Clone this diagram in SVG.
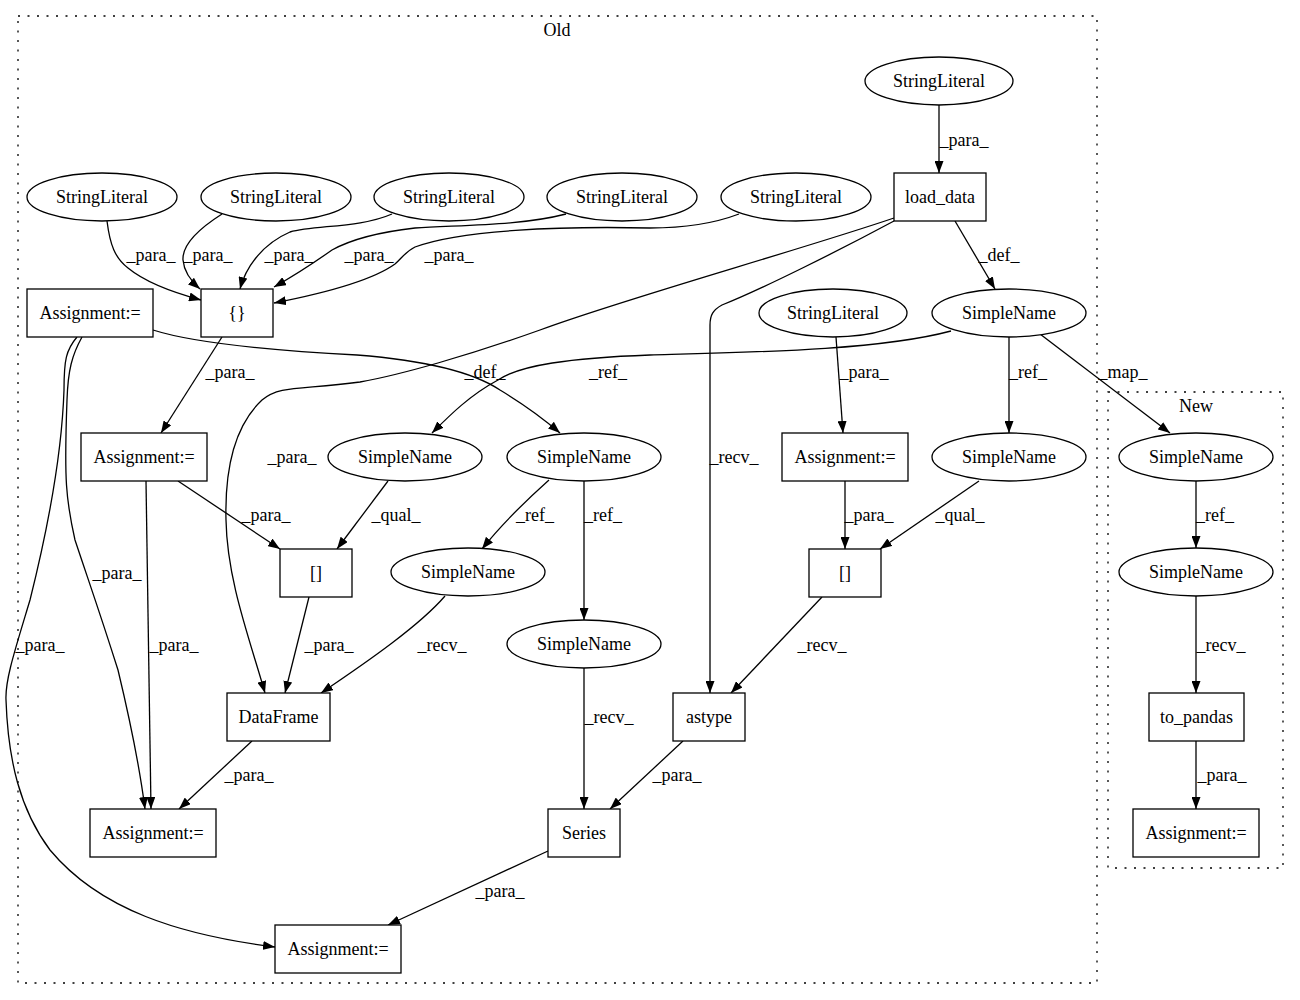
<svg xmlns="http://www.w3.org/2000/svg" width="1300" height="1000" viewBox="0 0 1300 1000">
<defs>
<marker id="ah" viewBox="0 0 12 9" refX="12" refY="4.5" markerWidth="12" markerHeight="9" markerUnits="userSpaceOnUse" orient="auto">
<path d="M0,0 L12,4.5 L0,9 z" fill="#000"/>
</marker>
</defs>
<style>
text{font-family:"Liberation Serif","Times New Roman",serif;font-size:18px;fill:#000;text-anchor:middle}
.n rect,.n ellipse{fill:#fff;stroke:#000;stroke-width:1.3}
.cl{fill:none;stroke:#000;stroke-width:1.3;stroke-dasharray:2,7.5}
#edges path{fill:none;stroke:#000;stroke-width:1.3;marker-end:url(#ah)}
</style>
<rect width="1300" height="1000" fill="#fff"/>
<g id="cluster_old">
<rect class="cl" x="18" y="16" width="1079" height="967"/>
<text x="557" y="36">Old</text>
</g>
<g id="cluster_new">
<rect class="cl" x="1108" y="392" width="175" height="476"/>
<text x="1196" y="412">New</text>
</g>
<g id="edges">
<path d="M939,105 L939,173"/>
<path d="M107,221 C110,245 115,258 128,268 C145,282 175,293 201,300"/>
<path d="M222,214 C200,228 182,245 183,260 C184,272 192,282 200,289"/>
<path d="M392,214 C360,228 315,225 290,232 C260,245 245,270 240,289"/>
<path d="M566,214 C520,226 460,225 415,228 C380,232 350,240 332,250 C315,262 290,278 274,287"/>
<path d="M739,214 C710,225 680,228 650,228 C560,226 460,230 415,247 C405,252 402,258 395,264 C370,282 310,296 274,303"/>
<path d="M894,218 C800,250 620,300 540,330 C470,355 400,375 360,382 C300,390 280,385 262,400 C230,430 225,480 226,520 C227,580 250,640 265,693"/>
<path d="M894,221 C840,250 760,290 722,305 C713,310 710,315 710,325 L710,693"/>
<path d="M955,221 L995,289"/>
<path d="M153,330 C200,345 300,352 357,355 C420,360 470,370 500,390 C525,405 545,420 560,433"/>
<path d="M951,331 C880,350 760,352 650,355 C570,358 520,365 498,380 C470,395 450,415 432,433"/>
<path d="M1009,337 L1009,433"/>
<path d="M1040,334 L1170,433"/>
<path d="M836,337 L843,433"/>
<path d="M222,337 L161,433"/>
<path d="M82,337 C72,355 68,370 67,400 C64,480 66,500 75,540 C90,585 100,613 118,670 C130,720 140,770 145,809"/>
<path d="M77,337 C66,350 64,360 64,390 C62,450 50,520 30,600 C15,650 5,680 6,700 C8,760 20,810 50,850 C100,910 180,935 275,947"/>
<path d="M146,481 L151,809"/>
<path d="M178,481 L280,549"/>
<path d="M388,481 L337,549"/>
<path d="M549,480 C530,497 505,520 482,549"/>
<path d="M584,481 L584,620"/>
<path d="M845,481 L845,549"/>
<path d="M979,481 L880,549"/>
<path d="M1196,481 L1196,548"/>
<path d="M309,597 L285,693"/>
<path d="M445,596 C420,625 370,660 321,693"/>
<path d="M584,668 L584,809"/>
<path d="M822,597 L731,693"/>
<path d="M1196,596 L1196,693"/>
<path d="M252,741 L179,809"/>
<path d="M683,741 L610,809"/>
<path d="M1196,741 L1196,809"/>
<path d="M548,851 L388,925"/>
</g>
<g id="edge_labels">
<text x="964" y="146">_para_</text>
<text x="151" y="261">_para_</text>
<text x="208" y="261">_para_</text>
<text x="289" y="261">_para_</text>
<text x="369" y="261">_para_</text>
<text x="449" y="261">_para_</text>
<text x="292" y="463">_para_</text>
<text x="734" y="463">_recv_</text>
<text x="999" y="261">_def_</text>
<text x="485" y="378">_def_</text>
<text x="608" y="378">_ref_</text>
<text x="1028" y="378">_ref_</text>
<text x="1123" y="378">_map_</text>
<text x="864" y="378">_para_</text>
<text x="230" y="378">_para_</text>
<text x="117" y="579">_para_</text>
<text x="40" y="651">_para_</text>
<text x="174" y="651">_para_</text>
<text x="266" y="521">_para_</text>
<text x="396" y="521">_qual_</text>
<text x="535" y="521">_ref_</text>
<text x="603" y="521">_ref_</text>
<text x="869" y="521">_para_</text>
<text x="960" y="521">_qual_</text>
<text x="1215" y="521">_ref_</text>
<text x="329" y="651">_para_</text>
<text x="442" y="651">_recv_</text>
<text x="609" y="723">_recv_</text>
<text x="822" y="651">_recv_</text>
<text x="1221" y="651">_recv_</text>
<text x="249" y="781">_para_</text>
<text x="677" y="781">_para_</text>
<text x="1222" y="781">_para_</text>
<text x="500" y="897">_para_</text>
</g>
<g id="n_sl_top" class="n"><ellipse cx="939" cy="81" rx="74" ry="24"/><text x="939" y="87">StringLiteral</text></g>
<g id="n_sl1" class="n"><ellipse cx="102" cy="197" rx="75" ry="24"/><text x="102" y="203">StringLiteral</text></g>
<g id="n_sl2" class="n"><ellipse cx="276" cy="197" rx="75" ry="24"/><text x="276" y="203">StringLiteral</text></g>
<g id="n_sl3" class="n"><ellipse cx="449" cy="197" rx="75" ry="24"/><text x="449" y="203">StringLiteral</text></g>
<g id="n_sl4" class="n"><ellipse cx="622" cy="197" rx="75" ry="24"/><text x="622" y="203">StringLiteral</text></g>
<g id="n_sl5" class="n"><ellipse cx="796" cy="197" rx="75" ry="24"/><text x="796" y="203">StringLiteral</text></g>
<g id="n_load_data" class="n"><rect x="894" y="173" width="92" height="48"/><text x="940" y="203">load_data</text></g>
<g id="n_braces" class="n"><rect x="201" y="289" width="72" height="48"/><text x="237" y="319">{}</text></g>
<g id="n_assign1" class="n"><rect x="27" y="289" width="126" height="48"/><text x="90" y="319">Assignment:=</text></g>
<g id="n_sl6" class="n"><ellipse cx="833" cy="313" rx="74" ry="24"/><text x="833" y="319">StringLiteral</text></g>
<g id="n_sn1" class="n"><ellipse cx="1009" cy="313" rx="77" ry="24"/><text x="1009" y="319">SimpleName</text></g>
<g id="n_assign2" class="n"><rect x="81" y="433" width="126" height="48"/><text x="144" y="463">Assignment:=</text></g>
<g id="n_sn2" class="n"><ellipse cx="405" cy="457" rx="77" ry="24"/><text x="405" y="463">SimpleName</text></g>
<g id="n_sn3" class="n"><ellipse cx="584" cy="457" rx="77" ry="24"/><text x="584" y="463">SimpleName</text></g>
<g id="n_assign3" class="n"><rect x="782" y="433" width="126" height="48"/><text x="845" y="463">Assignment:=</text></g>
<g id="n_sn6" class="n"><ellipse cx="1009" cy="457" rx="77" ry="24"/><text x="1009" y="463">SimpleName</text></g>
<g id="n_sn7" class="n"><ellipse cx="1196" cy="457" rx="77" ry="24"/><text x="1196" y="463">SimpleName</text></g>
<g id="n_idx1" class="n"><rect x="280" y="549" width="72" height="48"/><text x="316" y="579">[]</text></g>
<g id="n_sn4" class="n"><ellipse cx="468" cy="572" rx="77" ry="24"/><text x="468" y="578">SimpleName</text></g>
<g id="n_idx2" class="n"><rect x="809" y="549" width="72" height="48"/><text x="845" y="579">[]</text></g>
<g id="n_sn8" class="n"><ellipse cx="1196" cy="572" rx="77" ry="24"/><text x="1196" y="578">SimpleName</text></g>
<g id="n_sn5" class="n"><ellipse cx="584" cy="644" rx="77" ry="24"/><text x="584" y="650">SimpleName</text></g>
<g id="n_dataframe" class="n"><rect x="227" y="693" width="103" height="48"/><text x="278.5" y="723">DataFrame</text></g>
<g id="n_astype" class="n"><rect x="673" y="693" width="72" height="48"/><text x="709" y="723">astype</text></g>
<g id="n_to_pandas" class="n"><rect x="1149" y="693" width="95" height="48"/><text x="1196.5" y="723">to_pandas</text></g>
<g id="n_assign4" class="n"><rect x="90" y="809" width="126" height="48"/><text x="153" y="839">Assignment:=</text></g>
<g id="n_series" class="n"><rect x="548" y="809" width="72" height="48"/><text x="584" y="839">Series</text></g>
<g id="n_assign6" class="n"><rect x="1133" y="809" width="126" height="48"/><text x="1196" y="839">Assignment:=</text></g>
<g id="n_assign5" class="n"><rect x="275" y="925" width="126" height="48"/><text x="338" y="955">Assignment:=</text></g>
</svg>
